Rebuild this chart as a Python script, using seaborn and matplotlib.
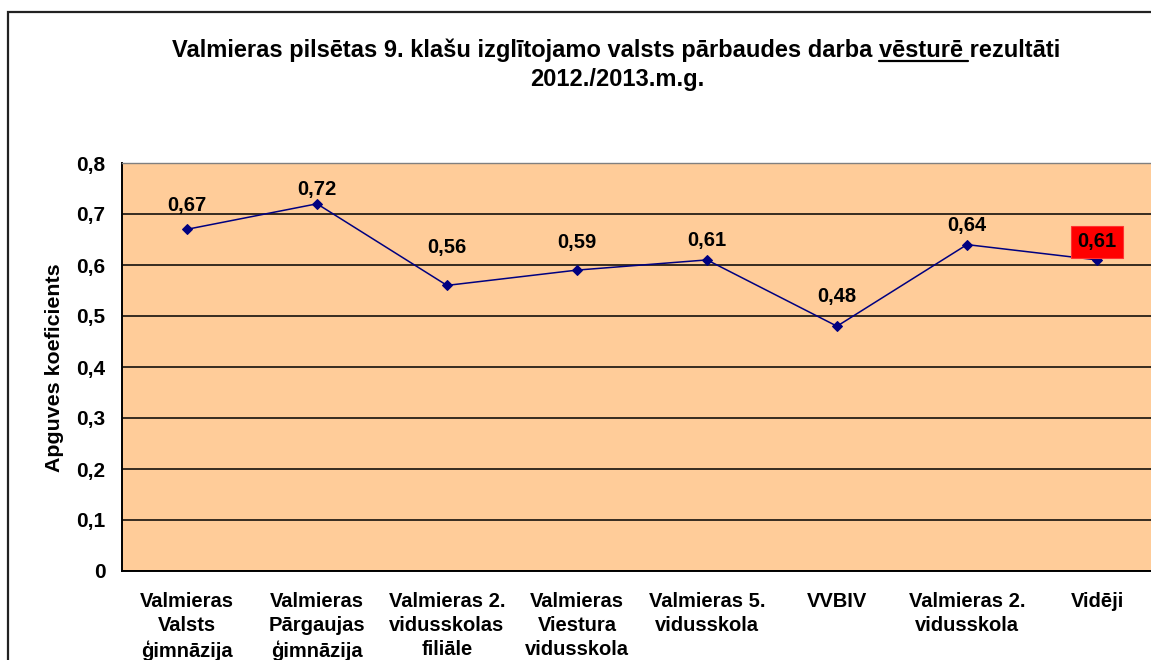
import matplotlib
matplotlib.use("Agg")
import matplotlib.pyplot as plt
import seaborn as sns
import pandas as pd
from matplotlib.patches import Rectangle
from matplotlib.lines import Line2D

# Dati
skolas = [
    "Valmieras\nValsts\nģimnāzija",
    "Valmieras\nPārgaujas\nģimnāzija",
    "Valmieras 2.\nvidusskolas\nfiliāle",
    "Valmieras\nViestura\nvidusskola",
    "Valmieras 5.\nvidusskola",
    "VVBIV",
    "Valmieras 2.\nvidusskola",
    "Vidēji",
]
koeficienti = [0.67, 0.72, 0.56, 0.59, 0.61, 0.48, 0.64, 0.61]
y_ticks = [0, 0.1, 0.2, 0.3, 0.4, 0.5, 0.6, 0.7, 0.8]
y_tick_labels = ["0", "0,1", "0,2", "0,3", "0,4", "0,5", "0,6", "0,7", "0,8"]
# datu etiķešu nobīde virs punkta (pikseļos)
label_dy = [24, 14, 38, 28, 19, 30, 19, 18]

sns.set_style("white")
plt.rcParams['font.family'] = ['Liberation Sans', 'DejaVu Sans']
plt.rcParams['font.weight'] = 'bold'
for k in ['text.color', 'xtick.color', 'ytick.color', 'axes.labelcolor']:
    plt.rcParams[k] = 'black'

W, H = 1151, 660
fig = plt.figure(figsize=(W / 100, H / 100), dpi=100)
fig.patch.set_facecolor("white")

ax = fig.add_axes([122 / W, (H - 571) / H, 1040 / W, 408 / H])
ax.set_facecolor("#FFCC99")

df = pd.DataFrame({"poz": range(len(skolas)), "koef": koeficienti})
sns.lineplot(data=df, x="poz", y="koef", ax=ax, color="#000080", linewidth=1.1,
             marker="D", markersize=5.5, markeredgecolor="#000080")

ax.set_xlim(-0.5, len(skolas) - 0.5)
ax.set_ylim(0, 0.8)
ax.set_yticks(y_ticks)
ax.set_yticklabels(y_tick_labels, fontsize=15, fontweight='bold')
ax.yaxis.grid(True, color="black", linewidth=1.1)
ax.set_axisbelow(True)

# x: galvenās atzīmes starp kategorijām, nosaukumi centrā
ax.set_xticks([i - 0.5 for i in range(len(skolas) + 1)])
ax.set_xticklabels([])
ax.set_xticks(range(len(skolas)), minor=True)
ax.set_xticklabels(skolas, minor=True, fontsize=14.5, fontweight='bold',
                   linespacing=1.35, va='top')
ax.tick_params(axis='x', which='major', length=5, width=1, color='black', direction='out')
ax.tick_params(axis='x', which='minor', length=0, pad=15)
ax.tick_params(axis='y', length=5, width=1, color='black', direction='out', pad=7)
ax.set_xlabel("")
ax.set_ylabel("")

for s in ["left", "bottom"]:
    ax.spines[s].set_color("black")
    ax.spines[s].set_linewidth(1.4)
ax.spines["top"].set_color("#808080")
ax.spines["top"].set_linewidth(1.0)
ax.spines["right"].set_color("#808080")

# datu etiķetes
for i, (v, dy) in enumerate(zip(koeficienti, label_dy)):
    txt = f"{v:.2f}".replace(".", ",")
    kw = {}
    if i == len(koeficienti) - 1:
        kw["bbox"] = dict(boxstyle="square,pad=0.32", facecolor="#FF0000",
                          edgecolor="#FF3333", linewidth=0.8)
    ax.annotate(txt, (i, v), xytext=(0, dy), textcoords="offset pixels",
                ha="center", va="center", fontsize=14.5, fontweight="bold",
                color="black", **kw)

# y ass nosaukums
fig.text(55 / W, 1 - 368 / H, "Apguves koeficients", rotation=90,
         ha="center", va="center", fontsize=15.4, fontweight="bold")

# virsraksts ar pasvītrotu vārdu
rinda1 = "Valmieras pilsētas 9. klašu izglītojamo valsts pārbaudes darba vēsturē rezultāti"
fs_t = 17
t1 = fig.text(616 / W, 1 - 57 / H, rinda1, ha="center", va="baseline",
              fontsize=fs_t, fontweight="bold")
fig.text(617 / W, 1 - 86 / H, "2012./2013.m.g.", ha="center", va="baseline",
         fontsize=fs_t, fontweight="bold")

fig.canvas.draw()
r = fig.canvas.get_renderer()
bb = t1.get_window_extent(r)


def platums(s):
    t = fig.text(0, 0, s, fontsize=fs_t, fontweight="bold")
    w = t.get_window_extent(r).width
    t.remove()
    return w


x_sak = bb.x0 + bb.width - platums("vēsturē rezultāti")
x_beig = bb.x0 + bb.width - platums("rezultāti") - 2
y_line = (H - 61) / H
fig.add_artist(Line2D([x_sak / W, x_beig / W], [y_line, y_line], color="black",
                      linewidth=1.6, transform=fig.transFigure))

# diagrammas rāmis
fig.add_artist(Rectangle((8 / W, -0.1), 1.2, 1 - 11.5 / H + 0.1, fill=False,
                         edgecolor="#222222", linewidth=1.6,
                         transform=fig.transFigure, clip_on=False))

plt.savefig("out.png", dpi=100)
plt.close()
